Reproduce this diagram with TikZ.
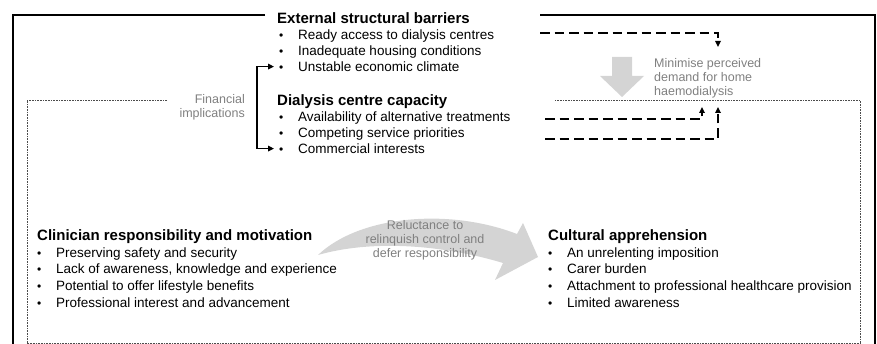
\documentclass[tikz,border=0pt]{standalone}
\usepackage{fontspec}
\setmainfont{Liberation Sans}
\usetikzlibrary{arrows.meta,positioning,calc}
\newcommand{\itm}{\makebox[19pt][l]{\fontsize{12}{12}\selectfont\textbullet}}

\begin{document}
\begin{tikzpicture}[x=1pt,y=-1pt,
    >={Triangle[length=6pt,width=5.5pt]},
    head/.style={anchor=base west,inner sep=0pt,font=\fontsize{15}{18}\selectfont\bfseries},
    item/.style={anchor=base west,inner sep=0pt,font=\fontsize{13.5}{16}\selectfont},
    note/.style={inner sep=0pt,text=black!50,font=\fontsize{12.5}{14}\selectfont},
    frame/.style={line width=2pt},
    box/.style={draw=black!70,line width=0.9pt,dash pattern=on 0.8pt off 0.8pt},
    link/.style={line width=1.5pt},
    dashlink/.style={link,->,dash pattern=on 9.5pt off 5pt},
    shade/.style={fill=black!17,draw=none}]
  \useasboundingbox (0,0) rectangle (877,344);

  % frames
  \draw[frame] (265,15) -- (13,15) -- (13,346);
  \draw[frame] (540,15) -- (875,15) -- (875,346);
  \draw[box] (167,100) -- (27,100) -- (27,343) -- (860,343) -- (860,100) -- (555,100);

  % block arrows
  \fill[shade] (612,57) -- (632,57) -- (632,76) -- (644,76) -- (622,97) -- (600,76) -- (612,76) -- cycle;
  \fill[shade] (318,255) .. controls (360,215) and (450,208) .. (517,234) -- (523,223) -- (538,257)
     -- (495,280) -- (503,263) .. controls (440,244) and (370,240) .. (318,255);

  % external barriers
  \node[head] (ext) at (277,24) {External structural barriers};
  \foreach \t [count=\i] in {Ready access to dialysis centres, Inadequate housing conditions,
      Unstable economic climate}
    \node[item] (ext\i) at (279,{24+15.8*\i}) {\itm\t};

  % centre capacity
  \node[head] (cap) at (277,106) {Dialysis centre capacity};
  \foreach \t [count=\i] in {Availability of alternative treatments, Competing service priorities,
      Commercial interests}
    \node[item] (cap\i) at (279,{106+15.8*\i}) {\itm\t};

  % clinician
  \node[head] (clin) at (37,241) {Clinician responsibility and motivation};
  \foreach \t [count=\i] in {Preserving safety and security, {Lack of awareness, knowledge and experience},
      Potential to offer lifestyle benefits, Professional interest and advancement}
    \node[item] (clin\i) at (37,{241+16.5*\i}) {\itm\t};

  % culture
  \node[head] (cult) at (548,241) {Cultural apprehension};
  \foreach \t [count=\i] in {An unrelenting imposition, Carer burden,
      Attachment to professional healthcare provision, Limited awareness}
    \node[item] (cult\i) at (548,{241+16.5*\i}) {\itm\t};

  % notes
  \node[note,align=right,anchor=north east] (fin) at (245,94) {Financial\\implications};
  \node[note,align=left,anchor=north west] (mini) at (654,58) {Minimise perceived\\demand for home\\haemodialysis};
  \node[note,align=center,anchor=north] (rel) at (425,220) {Reluctance to\\relinquish control and\\defer responsibility};

  % links
  \draw[link,<->,shorten <=5pt,shorten >=5pt] (ext3.west) -- ++(-22,0) |- (cap3.west);
  \coordinate (s1) at (540,33);  \coordinate (t1) at (718,47);
  \coordinate (s2) at (545,119); \coordinate (t2) at (702,107);
  \coordinate (s3) at (545,139); \coordinate (t3) at (718,107);
  \draw[dashlink] (s1) -| (t1);
  \draw[dashlink] (s2) -| (t2);
  \draw[dashlink] (s3) -| (t3);
\end{tikzpicture}
\end{document}
